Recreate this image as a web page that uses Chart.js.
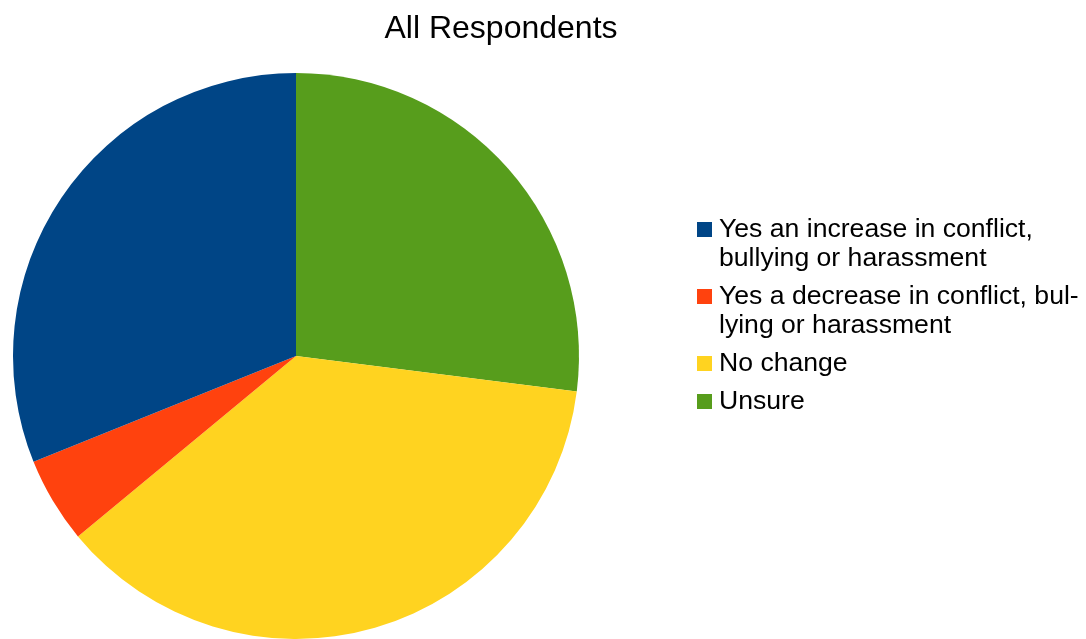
<!DOCTYPE html>
<html>
<head>
<meta charset="utf-8">
<script src="https://cdn.jsdelivr.net/npm/chart.js@4/dist/chart.umd.min.js"></script>
<style>
html,body{margin:0;padding:0;background:#fff;}
canvas{display:block;}
</style>
</head>
<body>
<canvas id="c" width="1086" height="639"></canvas>
<script>
const title = "All Respondents";
const categories = [
  "Yes an increase in conflict, bullying or harassment",
  "Yes a decrease in conflict, bullying or harassment",
  "No change",
  "Unsure"
];
const legendLines = [
  ["Yes an increase in conflict,", "bullying or harassment"],
  ["Yes a decrease in conflict, bul-", "lying or harassment"],
  ["No change"],
  ["Unsure"]
];
const values = [31.1, 4.9, 37.0, 27.0];
const colors = ["#004586", "#ff420e", "#ffd320", "#579d1c"];

// LibreOffice draws slices counter-clockwise from the top; Chart.js draws clockwise,
// so feed the data in reverse order.
const revLabels = categories.slice().reverse();
const revValues = values.slice().reverse();
const revColors = colors.slice().reverse();

const FONT = "'Liberation Sans', Arial, sans-serif";

const customText = {
  id: 'customText',
  afterDraw(chart) {
    const ctx = chart.ctx;
    ctx.save();
    ctx.fillStyle = '#000';
    ctx.textBaseline = 'alphabetic';
    ctx.textAlign = 'center';
    ctx.font = '32px ' + FONT;
    ctx.fillText(title, 501, 38);
    ctx.textAlign = 'left';
    ctx.font = '26.6px ' + FONT;
    let y = 237;
    legendLines.forEach((lines, i) => {
      ctx.fillStyle = colors[i];
      ctx.fillRect(697, y - 15, 15, 15);
      ctx.fillStyle = '#000';
      lines.forEach((ln, j) => {
        ctx.fillText(ln, 719, y + j * 29);
      });
      y += (lines.length - 1) * 29 + 38;
    });
    ctx.restore();
  }
};

new Chart(document.getElementById('c'), {
  type: 'pie',
  data: {
    labels: revLabels,
    datasets: [{
      data: revValues,
      backgroundColor: revColors,
      borderWidth: 0
    }]
  },
  options: {
    responsive: false,
    animation: false,
    layout: { padding: { top: 73, bottom: 0, left: 13, right: 507 } },
    plugins: {
      legend: { display: false },
      title: { display: false },
      tooltip: { enabled: false }
    }
  },
  plugins: [customText]
});
</script>
</body>
</html>
